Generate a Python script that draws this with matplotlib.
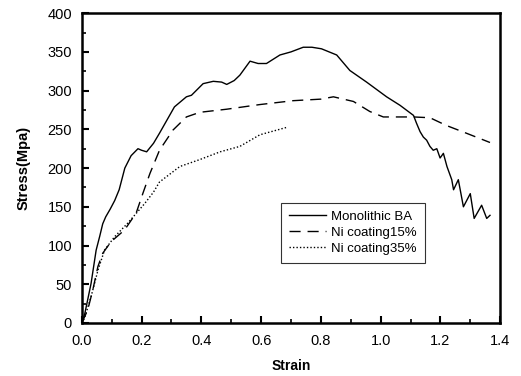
import numpy as np
import matplotlib
matplotlib.use('Agg')
import matplotlib.pyplot as plt
from matplotlib.ticker import MultipleLocator

plt.rcParams['font.family'] = ['Liberation Sans', 'DejaVu Sans']

# Monolithic BA (solid)
strain_ba = [0, 0.01, 0.031, 0.048, 0.06, 0.07, 0.08, 0.095, 0.11, 0.125, 0.144, 0.165,
             0.188, 0.2, 0.217, 0.24, 0.26, 0.285, 0.31, 0.35, 0.367, 0.406, 0.44, 0.468,
             0.485, 0.51, 0.529, 0.563, 0.59, 0.618, 0.663, 0.70, 0.741, 0.77, 0.802,
             0.853, 0.897, 0.953, 1.02, 1.065, 1.11, 1.12, 1.132, 1.143, 1.154, 1.165,
             1.176, 1.188, 1.199, 1.21, 1.222, 1.238, 1.244, 1.26, 1.277, 1.30, 1.313,
             1.338, 1.355, 1.366]
stress_ba = [0, 12, 51, 94, 112, 128, 137, 147, 158, 172, 200, 216,
             225, 223, 221, 232, 245, 262, 279, 292, 294, 309, 312, 311,
             308, 313, 320, 338, 335, 335, 346, 350, 356, 356, 354,
             346, 326, 311, 292, 281, 268, 258, 247, 240, 236, 228,
             223, 225, 213, 219, 202, 185, 172, 185, 150, 167, 135,
             152, 135, 139]

# Ni coating 15% (dashed)
strain_15 = [0, 0.02, 0.037, 0.054, 0.07, 0.098, 0.143, 0.182, 0.205, 0.228, 0.26,
             0.305, 0.35, 0.395, 0.485, 0.596, 0.707, 0.80, 0.842, 0.909, 0.964,
             1.009, 1.11, 1.165, 1.22, 1.287, 1.366]
stress_15 = [0, 17, 43, 73, 90, 105, 120, 142, 168, 193, 223,
             249, 266, 272, 276, 282, 287, 289, 292, 286, 273,
             266, 266, 265, 255, 245, 233]

# Ni coating 35% (dotted)
strain_35 = [0, 0.009, 0.031, 0.054, 0.076, 0.109, 0.154, 0.21, 0.24, 0.26, 0.328,
             0.395, 0.463, 0.529, 0.596, 0.69]
stress_35 = [0, 6, 34, 68, 94, 111, 129, 154, 169, 182, 202,
             211, 221, 228, 243, 253]

labels = ['Monolithic BA', 'Ni coating15%', 'Ni coating35%']

fig = plt.figure(figsize=(5.21, 3.76), dpi=100)
ax = fig.add_axes([0.157, 0.141, 0.803, 0.824])

ax.plot(strain_ba, stress_ba, color='black', lw=1.0, label=labels[0])
ax.plot(strain_15, stress_15, color='black', lw=1.0, dashes=(8, 5), label=labels[1])
ax.plot(strain_35, stress_35, color='black', lw=1.0, dashes=(1, 1.5), label=labels[2])

ax.set_xlim(0, 1.4)
ax.set_ylim(0, 400)
ax.xaxis.set_major_locator(MultipleLocator(0.2))
ax.xaxis.set_minor_locator(MultipleLocator(0.1))
ax.yaxis.set_major_locator(MultipleLocator(50))
ax.yaxis.set_minor_locator(MultipleLocator(25))
ax.tick_params(which='major', direction='in', length=5, width=1.5, labelsize=10.5)
ax.tick_params(axis='x', which='major', pad=8)
ax.tick_params(axis='y', which='major', pad=7)
ax.tick_params(which='minor', direction='in', length=3, width=1.2)
ax.xaxis.set_major_formatter(plt.FuncFormatter(lambda v, p: '%.1f' % v))

for s in ax.spines.values():
    s.set_linewidth(1.8)

ax.set_xlabel('Strain', fontsize=10, fontweight='bold', labelpad=8)
ax.set_ylabel('Stress(Mpa)', fontsize=10.5, fontweight='bold', labelpad=12)

leg = ax.legend(loc='upper left', bbox_to_anchor=(0.46, 0.41), fontsize=9.5,
                frameon=True, fancybox=False, edgecolor='black', handlelength=2.8,
                handletextpad=0.4, borderpad=0.6, labelspacing=0.3)
leg.get_frame().set_linewidth(0.8)

fig.savefig('out.png', dpi=100)
